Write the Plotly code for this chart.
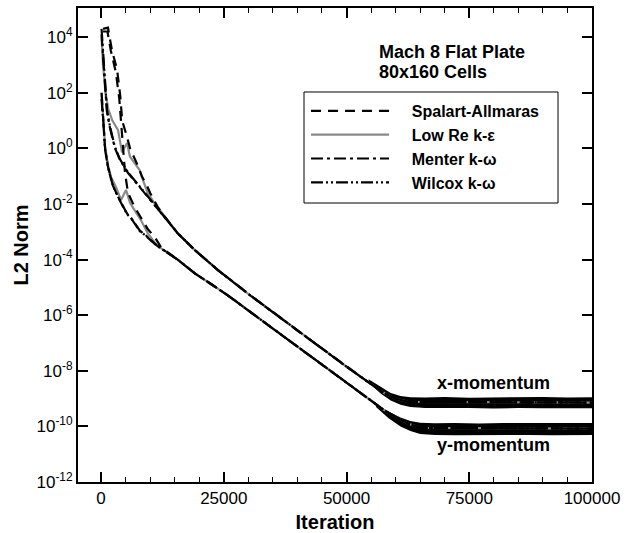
import plotly.graph_objects as go

# ---------------- data ----------------
# shared converged tails (all models collapse onto the same curve)
xmom_tail_iter = [15600, 19100, 23800, 30500, 40000, 50000, 55000, 57500, 60000, 62500, 100000]
xmom_tail_val = [8.9e-4, 2.2e-4, 4.2e-5, 5.0e-6, 2.8e-7, 1.4e-8, 3.3e-9, 1.66e-9, 1.0e-9, 7.6e-10, 7.2e-10]
ymom_tail_iter = [22400, 25800, 35000, 45000, 55000, 57500, 60000, 62500, 65000, 100000]
ymom_tail_val = [1.32e-5, 5.2e-6, 3.3e-7, 1.66e-8, 8.9e-10, 4.0e-10, 2.2e-10, 1.26e-10, 8.9e-11, 8.3e-11]

# Spalart-Allmaras
sa_x_iter = [400, 1400, 2236, 3252, 3900, 4300, 5300, 5900, 7300, 8300, 9350, 10000, 11585, 13000]
sa_x_val = [2.0e4, 2.2e4, 3.2e3, 7.1e2, 79, 10, 2.5, 1.0, 0.28, 0.10, 0.045, 0.025, 7.6e-3, 3.4e-3]
sa_y_iter = [400, 1300, 2000, 3000, 3700, 4100, 4500, 4880, 5490, 6800, 8130, 9500, 10980, 12200, 15600, 19100]
sa_y_val = [1.6e4, 1.6e4, 3.2e3, 5.6e2, 63, 7.9, 1.0, 0.13, 0.025, 7.9e-3, 3.2e-3, 1.26e-3, 6.3e-4, 2.8e-4, 1.0e-4, 3.2e-5]

# Low Re k-epsilon
ke_x_iter = [100, 400, 900, 1500, 2300, 3050, 3455, 4270, 5280, 5894, 6910, 7927, 8536, 9500, 11000, 13000]
ke_x_val = [1.0e4, 1.0e3, 100, 25, 10, 6.3, 4.5, 0.72, 1.55, 0.50, 0.28, 0.16, 0.072, 0.025, 0.010, 3.4e-3]
ke_y_iter = [100, 400, 800, 1400, 2030, 3050, 4065, 5080, 5894, 7100, 8130, 9500, 11400, 15600, 19100]
ke_y_val = [100, 10, 1.26, 0.25, 0.093, 0.040, 0.014, 0.032, 0.011, 5.0e-3, 2.6e-3, 8.9e-4, 3.2e-4, 1.0e-4, 3.2e-5]

# Menter k-omega
me_x_iter = [100, 300, 600, 850, 1200, 1800, 2800, 3800, 5500, 8000, 9500, 13000]
me_x_val = [1.26e4, 4.0e3, 7.9e2, 100, 20, 5.6, 1.05, 0.40, 0.13, 0.038, 0.018, 3.4e-3]
me_y_iter = [100, 300, 550, 813, 1423, 2440, 3455, 4065, 5300, 6100, 7900, 8943, 11400, 15600, 19100]
me_y_val = [100, 32, 6.3, 1.0, 0.21, 0.045, 0.018, 0.011, 4.5e-3, 3.2e-3, 1.1e-3, 7.9e-4, 3.2e-4, 1.0e-4, 3.2e-5]

# Wilcox k-omega
wi_x_iter = [100, 300, 600, 850, 1200, 1800, 2800, 3800, 5500, 8000, 9500, 13000]
wi_x_val = [2.0e4, 5.0e3, 1.0e3, 120, 25, 6.3, 1.15, 0.42, 0.135, 0.040, 0.019, 3.5e-3]
wi_y_iter = [100, 300, 550, 813, 1423, 2440, 3455, 4065, 5300, 6100, 7900, 8943, 11400, 15600, 19100]
wi_y_val = [60, 25, 5.0, 0.9, 0.20, 0.043, 0.017, 0.011, 4.3e-3, 3.1e-3, 1.05e-3, 7.6e-4, 3.1e-4, 1.0e-4, 3.2e-5]

# converged noise bands (envelopes)
xband_iter = [54500, 57000, 59000, 61000, 63000, 66000, 70000, 75000, 80000, 85000, 90000, 95000, 100000]
xband_top = [5.0e-9, 2.6e-9, 1.6e-9, 1.25e-9, 1.12e-9, 1.1e-9, 1.15e-9, 1.08e-9, 1.12e-9, 1.1e-9, 1.14e-9, 1.1e-9, 1.12e-9]
xband_bot = [3.8e-9, 1.5e-9, 8.5e-10, 6.0e-10, 5.0e-10, 4.6e-10, 4.5e-10, 4.6e-10, 4.4e-10, 4.6e-10, 4.5e-10, 4.4e-10, 4.5e-10]
yband_iter = [56000, 58500, 61000, 63000, 65000, 68000, 72000, 77000, 82000, 87000, 92000, 96000, 100000]
yband_top = [6.5e-10, 3.4e-10, 2.1e-10, 1.55e-10, 1.35e-10, 1.3e-10, 1.33e-10, 1.28e-10, 1.32e-10, 1.3e-10, 1.34e-10, 1.3e-10, 1.32e-10]
yband_bot = [5.0e-10, 2.0e-10, 1.0e-10, 6.8e-11, 5.3e-11, 4.9e-11, 4.8e-11, 5.0e-11, 4.8e-11, 4.9e-11, 4.8e-11, 5.0e-11, 4.9e-11]

x_ticks = [0, 25000, 50000, 75000, 100000]
x_ticktext = ["0", "25000", "50000", "75000", "100000"]
y_ticks = [1e-12, 1e-10, 1e-8, 1e-6, 1e-4, 1e-2, 1e0, 1e2, 1e4]
y_ticktext = ["10<sup>-12</sup>", "10<sup>-10</sup>", "10<sup>-8</sup>", "10<sup>-6</sup>",
              "10<sup>-4</sup>", "10<sup>-2</sup>", "10<sup>0</sup>", "10<sup>2</sup>", "10<sup>4</sup>"]

FONT = "Liberation Sans, Arial, sans-serif"
PAD = "\u00a0\u00a0\u00a0\u00a0"

models = [
    ("Spalart-Allmaras", sa_x_iter, sa_x_val, sa_y_iter, sa_y_val, "black", "10px,7px", 1),
    ("Low Re k-\u03b5", ke_x_iter, ke_x_val, ke_y_iter, ke_y_val, "#8a8a8a", "solid", 2),
    ("Menter k-\u03c9", me_x_iter, me_x_val, me_y_iter, me_y_val, "black", "12px,4px,3px,4px", 3),
    ("Wilcox k-\u03c9", wi_x_iter, wi_x_val, wi_y_iter, wi_y_val, "black", "12px,3px,2px,3px,2px,3px", 4),
]

fig = go.Figure()

# noise bands
for bi, bt, bb in [(xband_iter, xband_top, xband_bot), (yband_iter, yband_top, yband_bot)]:
    fig.add_trace(go.Scatter(x=bi + bi[::-1], y=bt + bb[::-1], fill="toself",
                             fillcolor="black", line=dict(width=0), mode="lines",
                             showlegend=False, hoverinfo="skip"))

draw_order = [1, 0, 2, 3]
for k in draw_order:
    name, xi, xv, yi, yv, color, dash, rank = models[k]
    xi_full, xv_full = xi + xmom_tail_iter, xv + xmom_tail_val
    yi_full, yv_full = yi + ymom_tail_iter, yv + ymom_tail_val
    fig.add_trace(go.Scatter(x=xi_full, y=xv_full, mode="lines", name=PAD + name,
                             legendgroup=name, legendrank=rank,
                             line=dict(color=color, width=2.2, dash=dash)))
    fig.add_trace(go.Scatter(x=yi_full, y=yv_full, mode="lines", name=PAD + name,
                             legendgroup=name, showlegend=False,
                             line=dict(color=color, width=2.2, dash=dash)))

axis_common = dict(showline=True, linecolor="black", linewidth=2, mirror="allticks",
                   ticks="inside", tickcolor="black", tickwidth=2, ticklen=10,
                   showgrid=False, zeroline=False, automargin=False,
                   tickfont=dict(family=FONT, size=17, color="black"))

fig.update_xaxes(range=[-4700, 100000], tickvals=x_ticks, ticktext=x_ticktext,
                 minor=dict(dtick=5000, tick0=0, ticks="inside", ticklen=5, tickwidth=1, tickcolor="black"),
                 title=dict(text="Iteration", font=dict(family=FONT, size=20, color="black", weight="bold"), standoff=8),
                 **axis_common)
fig.update_yaxes(type="log", range=[-12, 5.05], tickvals=y_ticks, ticktext=y_ticktext,
                 title=dict(text="L2 Norm", font=dict(family=FONT, size=20, color="black", weight="bold"), standoff=2),
                 **axis_common)

ann_font = dict(family=FONT, size=18, color="black", weight="bold")

fig.update_layout(
    width=640, height=533,
    margin=dict(l=78, r=48, t=8, b=51),
    paper_bgcolor="white", plot_bgcolor="white",
    showlegend=True,
    legend=dict(x=0.4436, y=0.8186, xanchor="left", yanchor="top",
                bgcolor="rgba(0,0,0,0)", borderwidth=0, itemwidth=78,
                font=dict(family=FONT, size=16, color="black", weight="bold"),
                traceorder="normal"),
    shapes=[dict(type="rect", xref="paper", yref="paper", x0=0.4397, x1=0.9339,
                 y0=0.5886, y1=0.8228, line=dict(color="black", width=1))],
    annotations=[
        dict(text="Mach 8 Flat Plate", xref="paper", yref="paper",
             x=0.5817, y=0.9072, xanchor="left", yanchor="middle", showarrow=False, font=ann_font),
        dict(text="80x160 Cells", xref="paper", yref="paper",
             x=0.5817, y=0.865, xanchor="left", yanchor="middle", showarrow=False, font=ann_font),
        dict(text="x-momentum", xref="paper", yref="paper", x=0.8074, y=0.2089,
             xanchor="center", yanchor="middle", showarrow=False, font=ann_font),
        dict(text="y-momentum", xref="paper", yref="paper", x=0.8074, y=0.0781,
             xanchor="center", yanchor="middle", showarrow=False, font=ann_font),
    ],
)

fig.write_html("out.html")
